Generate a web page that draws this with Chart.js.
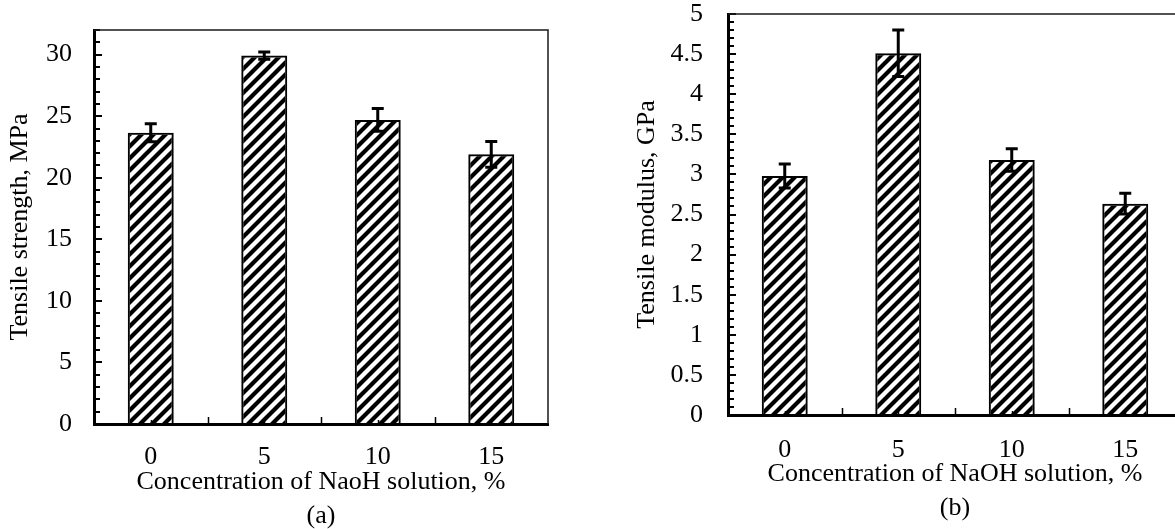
<!DOCTYPE html>
<html>
<head>
<meta charset="utf-8">
<script src="https://cdn.jsdelivr.net/npm/chart.js@4"></script>
<style>
  html, body { margin: 0; padding: 0; background: #fff; overflow: hidden; width: 1175px; height: 529px; }
  #chartA { position: absolute; left: 0; top: 0; }
  #chartB { position: absolute; left: 600px; top: 0; }
</style>
</head>
<body>
<canvas id="chartA" width="580" height="540"></canvas>
<canvas id="chartB" width="600" height="540"></canvas>
<script>
// Concentration of NaOH solution (%)
const concentrations = ['0', '5', '10', '15'];

// (a) tensile strength, MPa (mean and +/- error)
const strengthValues = [23.65, 29.92, 24.7, 21.9];
const strengthErrors = [0.73, 0.3, 0.92, 1.05];

// (b) tensile modulus, GPa (mean and +/- error)
const modulusValues = [2.98, 4.51, 3.18, 2.635];
const modulusErrors = [0.15, 0.29, 0.14, 0.13];

const serif = 'Liberation Serif';

// diagonal hatch fill for the bars
function makeHatch() {
  const size = 12;
  const c = document.createElement('canvas');
  c.width = size;
  c.height = size;
  const g = c.getContext('2d');
  g.strokeStyle = '#000';
  g.lineWidth = 4.2;
  g.beginPath();
  g.moveTo(-2, size + 2); g.lineTo(size + 2, -2);
  g.moveTo(-3, 3); g.lineTo(3, -3);
  g.moveTo(size - 3, size + 3); g.lineTo(size + 3, size - 3);
  g.stroke();
  return g.createPattern(c, 'repeat');
}
const hatch = makeHatch();

// inside tick marks + top/right frame
const frameAndTicks = {
  id: 'frameAndTicks',
  beforeDatasetsDraw(chart, args, opts) {
    const { ctx, chartArea: a, scales: { x, y } } = chart;
    ctx.save();
    ctx.strokeStyle = '#000';
    ctx.lineWidth = 2;
    const n = Math.round((y.max - y.min) / opts.minorStep);
    ctx.beginPath();
    for (let i = 0; i <= n; i++) {
      const py = Math.round(y.getPixelForValue(y.min + i * opts.minorStep));
      const len = i % opts.majorEvery === 0 ? 8 : 6;
      ctx.moveTo(a.left, py);
      ctx.lineTo(a.left + len, py);
    }
    ctx.stroke();

    ctx.lineWidth = 1.5;
    ctx.beginPath();
    const count = chart.data.labels.length;
    for (let i = 0; i < count; i++) {
      const cx = Math.round(x.getPixelForValue(i)) + 0.5;
      ctx.moveTo(cx, a.bottom);
      ctx.lineTo(cx, a.bottom - 4);
      if (i > 0) {
        const bx = Math.round((x.getPixelForValue(i - 1) + x.getPixelForValue(i)) / 2) + 0.5;
        ctx.moveTo(bx, a.bottom);
        ctx.lineTo(bx, a.bottom - 7);
      }
    }
    ctx.stroke();

    ctx.strokeStyle = '#1a1a1a';
    ctx.lineWidth = 1.5;
    ctx.beginPath();
    ctx.moveTo(a.left, a.top);
    ctx.lineTo(a.right, a.top);
    ctx.lineTo(a.right, a.bottom);
    ctx.stroke();
    ctx.restore();
  }
};

// error bars drawn on top of the bars
const errorBars = {
  id: 'errorBars',
  afterDatasetsDraw(chart, args, opts) {
    const { ctx, scales: { y } } = chart;
    const values = chart.data.datasets[0].data;
    const meta = chart.getDatasetMeta(0);
    ctx.save();
    ctx.strokeStyle = '#000';
    ctx.lineWidth = 3;
    meta.data.forEach((bar, i) => {
      const top = y.getPixelForValue(values[i] + opts.errors[i]);
      const bot = y.getPixelForValue(values[i] - opts.errors[i]);
      ctx.beginPath();
      ctx.moveTo(bar.x, top); ctx.lineTo(bar.x, bot);
      ctx.moveTo(bar.x - 6, top); ctx.lineTo(bar.x + 6, top);
      ctx.moveTo(bar.x - 6, bot); ctx.lineTo(bar.x + 6, bot);
      ctx.stroke();
    });
    ctx.restore();
  }
};

function buildChart(id, cfg) {
  const font = { family: serif, size: 26, lineHeight: 1.2 };
  return new Chart(document.getElementById(id), {
    type: 'bar',
    data: {
      labels: concentrations,
      datasets: [{
        data: cfg.values,
        backgroundColor: hatch,
        borderColor: '#000',
        borderWidth: 2,
        barPercentage: 0.405,
        categoryPercentage: 1
      }]
    },
    options: {
      responsive: false,
      animation: false,
      layout: { padding: cfg.padding },
      plugins: {
        legend: { display: false },
        tooltip: { enabled: false },
        errorBars: { errors: cfg.errors },
        frameAndTicks: { minorStep: cfg.minorStep, majorEvery: cfg.majorEvery }
      },
      scales: {
        x: {
          grid: { display: false, drawTicks: false, tickLength: 0 },
          border: { display: true, color: '#000', width: 3 },
          ticks: { font: font, color: '#000', padding: cfg.xTickPad },
          title: {
            display: true,
            text: [cfg.xTitle, cfg.tag],
            font: { family: serif, size: 26, lineHeight: 1.31 },
            color: '#000',
            padding: { top: 0, bottom: cfg.xTitlePad }
          },
          afterFit(s) { s.height = cfg.xHeight; s.paddingLeft = 0; s.paddingRight = 0; }
        },
        y: {
          min: 0,
          max: cfg.max,
          grid: { display: false, drawTicks: false, tickLength: 0 },
          border: { display: true, color: '#000', width: 3 },
          ticks: {
            stepSize: cfg.step,
            includeBounds: false,
            font: font,
            color: '#000',
            padding: cfg.yTickPad,
            callback: (v) => String(Number(v.toFixed(2)))
          },
          title: {
            display: true,
            text: cfg.yTitle,
            font: font,
            color: '#000',
            padding: { top: cfg.yTitlePad, bottom: 0 }
          },
          afterFit(s) { s.width = cfg.yWidth; s.paddingTop = 0; s.paddingBottom = 0; }
        }
      }
    },
    plugins: [frameAndTicks, errorBars]
  });
}

buildChart('chartA', {
  values: strengthValues,
  errors: strengthErrors,
  max: 32, step: 5, minorStep: 1, majorEvery: 5,
  yTitle: 'Tensile strength, MPa',
  xTitle: 'Concentration of NaoH solution, %',
  tag: '(a)',
  padding: { left: 0, right: 32, top: 30, bottom: 0 },
  yWidth: 94, yTickPad: 22, yTitlePad: 4.4,
  xHeight: 116, xTitlePad: 7, xTickPad: 18
});

buildChart('chartB', {
  values: modulusValues,
  errors: modulusErrors,
  max: 5, step: 0.5, minorStep: 0.1, majorEvery: 5,
  yTitle: 'Tensile modulus, GPa',
  xTitle: 'Concentration of NaOH solution, %',
  tag: '(b)',
  padding: { left: 0, right: 18, top: 14, bottom: 0 },
  yWidth: 128, yTickPad: 25, yTitlePad: 31.4,
  xHeight: 125, xTitlePad: 15, xTickPad: 20
});
</script>
</body>
</html>
